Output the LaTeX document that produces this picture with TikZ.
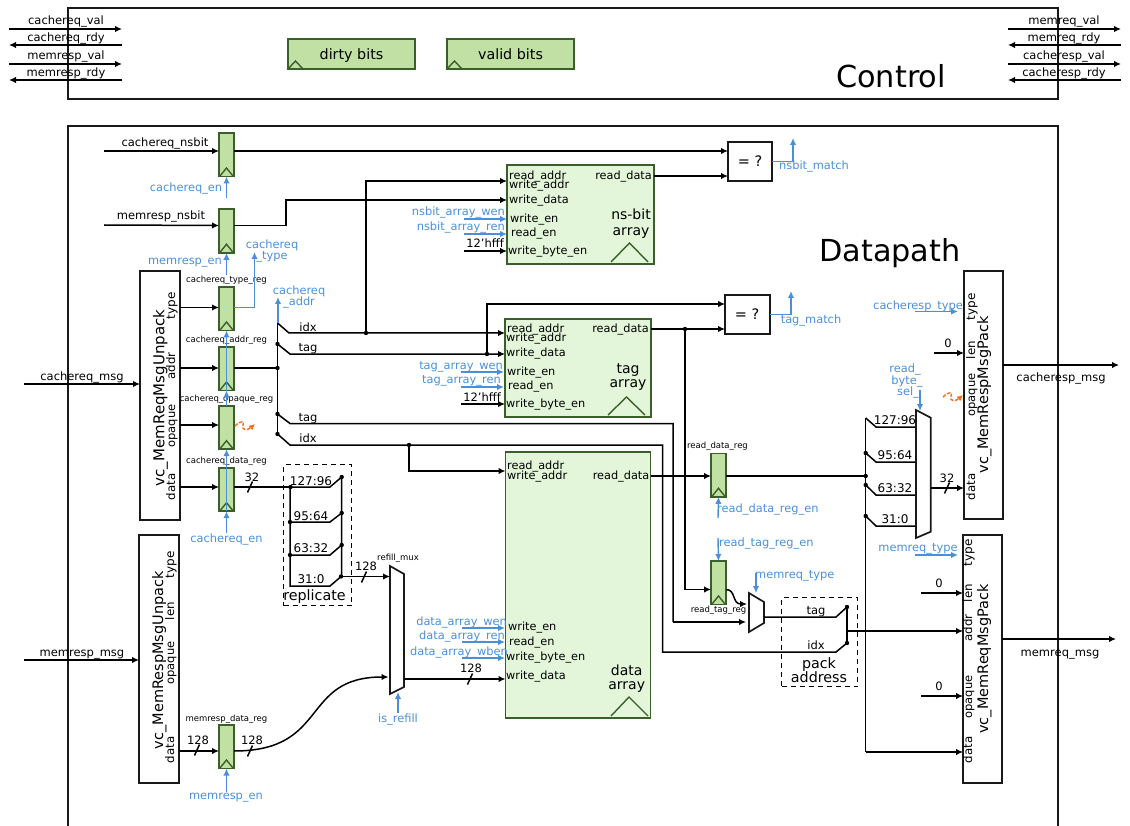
\documentclass[tikz,border=0pt]{standalone}
\usepackage{fontspec}
\setmainfont{DejaVu Sans}
\usetikzlibrary{arrows.meta,shapes.geometric}
\catcode`\_=12
\definecolor{regfill}{HTML}{C0E1A3}
\definecolor{regline}{HTML}{3B5F2A}
\definecolor{arrfill}{HTML}{E3F6D9}
\definecolor{sigblue}{HTML}{4A90D9}
\definecolor{wireorange}{HTML}{FF6A13}
\tikzset{
  x=1pt,y=-1pt,
  wire/.style={line width=1.5pt,draw=black},
  awire/.style={wire,-{Latex[length=7pt,width=6.5pt]}},
  bluewire/.style={line width=1.4pt,draw=sigblue},
  ablue/.style={bluewire,-{Latex[length=7pt,width=6.5pt]}},
  boxline/.style={line width=1.7pt,draw=black!90},
  regbox/.style={draw=regline,fill=regfill,line width=1.6pt,minimum width=15pt,minimum height=43.5pt,inner sep=0pt,outer sep=0pt,anchor=north west},
  arraybox/.style={draw=regline,fill=arrfill,line width=1.6pt,inner sep=0pt,outer sep=0pt,anchor=north west},
  unitbox/.style={boxline,fill=white,inner sep=0pt,outer sep=0pt,anchor=north west},
  tri/.style={draw=regline,line width=1.4pt},
  muxshape/.style={boxline,fill=white,line join=miter},
  dashbox/.style={line width=1.4pt,draw=black,dash pattern=on 5pt off 4pt},
  bluetxt/.style={text=sigblue},
  orangewire/.style={line width=1.4pt,draw=wireorange,dash pattern=on 3.5pt off 1.5pt,-{Latex[length=6pt,width=6pt]}},
}
\newcount\lblc
\newcommand\lbl[5][]{\global\advance\lblc by 1\relax
  \node[name=lbl\the\lblc,inner sep=0pt,anchor=base,text=black,font=\fontsize{#4}{#4}\selectfont,#1] at (#2,{#3+0.35*#4}) {#5};}
\newcommand\rlbl[5][]{\global\advance\lblc by 1\relax
  \node[name=lbl\the\lblc,inner sep=0pt,anchor=base,rotate=90,text=black,font=\fontsize{#4}{#4}\selectfont,#1] at ({#2+0.35*#4},#3) {#5};}
% register: name, left x, top y, port y
\newcommand\regx[4]{%
  \node[regbox] (#1) at (#2,#3) {};
  \coordinate (#1-in) at (#2,#4);
  \coordinate (#1-out) at ({#2+15},#4);
  \coordinate (#1-clk) at ({#2+7.5},{#3+43.5});
  \coordinate (#1-top) at ({#2+7.5},#3);
  \draw[tri] ({#2+1},{#3+43}) -- ({#2+7.5},{#3+35}) -- ({#2+14},{#3+43});}
\newcommand\jdot[2]{\fill[black] (#1,#2) circle (2.2pt);}
\newcommand\bitcut[2]{\draw[wire] ({#1-2.5},{#2+5.5}) -- ({#1+2.5},{#2-5.5});}
\begin{document}
\begin{tikzpicture}
\useasboundingbox (0,0) rectangle (1130,826);
% ---------- outer boxes
\node[unitbox,minimum width=990pt,minimum height=91pt] (control) at (68,8) {};
\draw[boxline] (68,826) -- (68,126) -- (1058,126) -- (1058,826);
\lbl{891}{77}{30.3}{Control}
\lbl{890}{251}{30.3}{Datapath}
% ---------- control ports
\coordinate (cl1) at (9,29); \coordinate (cl1b) at (122,29);
\coordinate (cl2) at (9,45); \coordinate (cl2b) at (122,45);
\coordinate (cl3) at (9,64); \coordinate (cl3b) at (122,64);
\coordinate (cl4) at (9,80); \coordinate (cl4b) at (122,80);
\coordinate (cr1) at (1008,29); \coordinate (cr1b) at (1121,29);
\coordinate (cr2) at (1008,45); \coordinate (cr2b) at (1121,45);
\coordinate (cr3) at (1008,64); \coordinate (cr3b) at (1121,64);
\coordinate (cr4) at (1008,80); \coordinate (cr4b) at (1121,80);
\draw[awire] (cl1) -- (cl1b); \draw[awire] (cl2b) -- (cl2); \draw[awire] (cl3) -- (cl3b); \draw[awire] (cl4b) -- (cl4);
\draw[awire] (cr1) -- (cr1b); \draw[awire] (cr2b) -- (cr2); \draw[awire] (cr3) -- (cr3b); \draw[awire] (cr4b) -- (cr4);
\lbl{66}{20}{11.5}{cachereq_val}
\lbl{66}{37}{11.5}{cachereq_rdy}
\lbl{66}{55}{11.5}{memresp_val}
\lbl{66}{72}{11.5}{memresp_rdy}
\lbl{1064}{20}{11.5}{memreq_val}
\lbl{1064}{37}{11.5}{memreq_rdy}
\lbl{1064}{55}{11.5}{cacheresp_val}
\lbl{1064}{72}{11.5}{cacheresp_rdy}
% state bits
\node[regbox,minimum width=127pt,minimum height=30pt] (dirty) at (288,39) {};
\node[regbox,minimum width=127pt,minimum height=30pt] (valid) at (447,39) {};
\draw[tri] (288,69) -- (295.5,61) -- (303,69);
\draw[tri] (447,69) -- (454.5,61) -- (462,69);
\lbl{351.5}{54}{14.3}{dirty bits}
\lbl{510.5}{54}{14.3}{valid bits}
% ---------- free-end coordinates
\coordinate (f-cnsb) at (104,151);
\coordinate (f-mnsb) at (104,225);
\coordinate (f-crqm) at (24,384);
\coordinate (f-mrsm) at (24,660);
\coordinate (f-crsm) at (1119,365);
\coordinate (f-mrqm) at (1116,639);
% ---------- port coordinates
\coordinate (cmp1-a) at (728,151); \coordinate (cmp1-b) at (728,176);
\coordinate (cmp2-a) at (725,304); \coordinate (cmp2-b) at (725,329);
\coordinate (ns-ra) at (507,181); \coordinate (ns-wd) at (507,200);
\coordinate (ns-rd) at (654,176);
\coordinate (tg-ra) at (505,333); \coordinate (tg-wd) at (505,354);
\coordinate (tg-rd) at (651,329);
\coordinate (da-ra) at (505.5,471); \coordinate (da-rd) at (651,476); \coordinate (da-wd) at (505.5,679);
\coordinate (j-idx) at (366,333); \coordinate (j-tag) at (487,354); \coordinate (j-dat) at (685,329);
\coordinate (j-idx2) at (409,445);
\coordinate (bus) at (277.5,368);
% registers
\regx{r1}{219}{133}{151}
\regx{r2}{219}{209.3}{225.5}
\regx{r3}{219}{287}{307.5}
\regx{r4}{219}{347}{368}
\regx{r5}{219}{405.7}{425}
\regx{r6}{219}{467.7}{487}
\regx{r7}{219}{725}{751}
\regx{r8}{711}{453.3}{476}
\regx{r9}{711}{561}{589.5}
\lbl{226.5}{280}{8.5}{cachereq_type_reg}
\lbl{226.5}{340}{8.5}{cachereq_addr_reg}
\lbl{226.5}{398.5}{8.5}{cachereq_opaque_reg}
\lbl{226.5}{461}{8.5}{cachereq_data_reg}
\lbl{226.5}{718.7}{8.5}{memresp_data_reg}
\lbl{717.5}{446}{8.5}{read_data_reg}
\lbl{718.5}{610}{8.5}{read_tag_reg}
% units
\node[unitbox,minimum width=40pt,minimum height=249pt] (reqU) at (140,271) {};
\node[unitbox,minimum width=40pt,minimum height=248pt] (respU) at (139,535) {};
\node[unitbox,minimum width=39pt,minimum height=248pt] (respP) at (964,271) {};
\node[unitbox,minimum width=39pt,minimum height=248pt] (reqP) at (963,535) {};
\rlbl{159}{398}{15}{vc_MemReqMsgUnpack}
\rlbl{171}{306}{12}{type}
\rlbl{171}{366}{11.8}{addr}
\rlbl{171}{426}{11.5}{opaque}
\rlbl{171}{487}{11.8}{data}
\rlbl{158}{660}{14.5}{vc_MemRespMsgUnpack}
\rlbl{170}{565}{12}{type}
\rlbl{170}{611}{11.8}{len}
\rlbl{170}{663}{11.5}{opaque}
\rlbl{170}{750}{11.8}{data}
\rlbl{983}{395}{14.5}{vc_MemRespMsgPack}
\rlbl{971}{307}{12}{type}
\rlbl{971}{350}{11.8}{len}
\rlbl{971}{395}{11.5}{opaque}
\rlbl{971}{487}{11.8}{data}
\rlbl{983}{659}{14.5}{vc_MemReqMsgPack}
\rlbl{968}{553}{12}{type}
\rlbl{968}{593}{11.8}{len}
\rlbl{968}{628}{11.8}{addr}
\rlbl{968}{697}{11.5}{opaque}
\rlbl{968}{750}{11.8}{data}
% arrays
\node[arraybox,minimum width=147pt,minimum height=99pt] (nsarr) at (507,165) {};
\node[arraybox,minimum width=146pt,minimum height=98pt] (tgarr) at (505,319) {};
\node[arraybox,minimum width=145pt,minimum height=266pt] (daarr) at (505.5,452) {};
\draw[tri] (611,262) -- (629.5,243) -- (648,262);
\draw[tri] (608,415) -- (626.5,397) -- (645,415);
\draw[tri] (611,716) -- (629,697) -- (648,716);
% array port text
\lbl[anchor=base west]{509}{176}{11.3}{read_addr}
\lbl[anchor=base west]{509}{184.5}{11.3}{write_addr}
\lbl[anchor=base west]{509}{200}{11.3}{write_data}
\lbl[anchor=base west]{510}{219}{11.3}{write_en}
\lbl[anchor=base west]{511}{233}{11.3}{read_en}
\lbl[anchor=base west]{508}{251}{11.3}{write_byte_en}
\lbl[anchor=base east]{652}{176}{11.3}{read_data}
\lbl{631}{215}{14}{ns-bit}
\lbl{631}{231}{14}{array}
\lbl[anchor=base west]{507}{329}{11.3}{read_addr}
\lbl[anchor=base west]{506}{337.5}{11.3}{write_addr}
\lbl[anchor=base west]{506}{353}{11.3}{write_data}
\lbl[anchor=base west]{507}{372}{11.3}{write_en}
\lbl[anchor=base west]{508}{386}{11.3}{read_en}
\lbl[anchor=base west]{506}{404}{11.3}{write_byte_en}
\lbl[anchor=base east]{649}{329}{11.3}{read_data}
\lbl{628}{369}{14}{tag}
\lbl{628}{383}{14}{array}
\lbl[anchor=base west]{507}{466}{11.3}{read_addr}
\lbl[anchor=base west]{507}{475.5}{11.3}{write_addr}
\lbl[anchor=base east]{649.5}{475.5}{11.3}{read_data}
\lbl[anchor=base west]{508}{627}{11.3}{write_en}
\lbl[anchor=base west]{509}{641.5}{11.3}{read_en}
\lbl[anchor=base west]{506}{657}{11.3}{write_byte_en}
\lbl[anchor=base west]{506}{676}{11.3}{write_data}
\lbl{626.7}{670.5}{14}{data}
\lbl{626.7}{685}{14}{array}
% comparators
\node[unitbox,minimum width=44pt,minimum height=39pt] (cmp1) at (728,142) {};
\node[unitbox,minimum width=45pt,minimum height=39pt] (cmp2) at (725,295) {};
\lbl{750}{161}{14.5}{= ?}
\lbl{747}{314}{14.5}{= ?}
% input wires
\draw[awire] (f-cnsb) -- (r1-in);
\draw[awire] (f-mnsb) -- (r2-in);
\draw[awire] (reqU.east |- r3-in) -- (r3-in);
\draw[awire] (reqU.east |- r4-in) -- (r4-in);
\draw[awire] (reqU.east |- r5-in) -- (r5-in);
\draw[awire] (reqU.east |- r6-in) -- (r6-in);
\draw[awire] (respU.east |- r7-in) -- (r7-in);
\draw[awire] (f-crqm) -- (reqU.west |- f-crqm);
\draw[awire] (f-mrsm) -- (respU.west |- f-mrsm);
\draw[awire] (respP.east |- f-crsm) -- (f-crsm);
\draw[awire] (reqP.east |- f-mrqm) -- (f-mrqm);
\lbl{165}{142}{11.5}{cachereq_nsbit}
\lbl{161}{215}{11.5}{memresp_nsbit}
\lbl{82}{376}{11.5}{cachereq_msg}
\lbl{82}{652}{11.5}{memresp_msg}
\lbl{1061}{377}{11.5}{cacheresp_msg}
\lbl{1060}{652}{11.5}{memreq_msg}
% nsbit path
\draw[awire] (r1-out) -- (cmp1-a);
\draw[awire] (r2-out) -- (286,225.5) -- (286,200) -- (ns-wd);
\draw[awire] (ns-rd) -- (cmp1-b);
% address bus
\draw[wire] (r4-out) -- (bus);
\draw[wire] (277.5,323) -- (277.5,434);
\draw[awire] (277.5,323) -- (289,333) -- (tg-ra);
\draw[awire] (277.5,344) -- (290,354) -- (tg-wd);
\draw[awire] (j-idx) -- (366,181) -- (ns-ra);
\draw[awire] (j-tag) -- (487,304) -- (cmp2-a);
\draw[wire] (277.5,414) -- (290,423.5) -- (673,423.5) -- (673,622) coordinate (m2b);
\draw[wire] (277.5,434) -- (290,445) -- (662.5,445) -- (662.5,652) -- (836,652) -- (847,643);
\draw[awire] (j-idx2) -- (409,471) -- (da-ra);
\jdot{366}{333}\jdot{487}{354}\jdot{409}{445}
\jdot{277.5}{344}\jdot{277.5}{368}\jdot{277.5}{414}\jdot{277.5}{434}
\lbl{308}{327}{11.5}{idx}
\lbl{308}{347}{11.5}{tag}
\lbl{308}{417}{11.5}{tag}
\lbl{308}{438}{11.5}{idx}
% tag read data
\draw[awire] (tg-rd) -- (cmp2-b);
\draw[awire] (j-dat) -- (685,589.5) -- (r9-in);
\jdot{685}{329}
% replicate
\coordinate (rep0) at (290,487); \coordinate (rep1) at (341.7,477);
\draw[wire] (r6-out) -- (rep0);
\bitcut{250}{487}
\lbl{252}{477}{11.5}{32}
\draw[wire] (rep0) -- (290,586) -- (330,586) -- (341.7,576);
\draw[wire] (rep0) -- (330,487) -- (rep1) -- (341.7,576);
\draw[wire] (290,522) -- (330,522) -- (341.7,513);
\draw[wire] (290,555) -- (330,555) -- (341.7,545);
\jdot{290.5}{487}\jdot{290}{522}\jdot{290}{555}
\jdot{341.7}{477}\jdot{341.7}{513}\jdot{341.7}{545}\jdot{341}{576.5}
\lbl{311}{481}{12}{127:96}
\lbl{311}{516}{12}{95:64}
\lbl{311}{548}{12}{63:32}
\lbl{311}{579}{12}{31:0}
\node[dashbox,minimum width=68pt,minimum height=141pt,inner sep=0pt,anchor=north west] (repbox) at (283,464) {};
\lbl{314.5}{595}{14.3}{replicate}
% refill mux
\coordinate (m1a) at (390,566); \coordinate (m1b) at (404,574); \coordinate (m1c) at (404,687); \coordinate (m1d) at (390,694);
\draw[muxshape] (m1a) -- (m1b) -- (m1c) -- (m1d) -- cycle;
\lbl{398}{558}{8.5}{refill_mux}
\draw[awire] (341,576.5) -- (m1a |- 0,576.5);
\bitcut{364}{577}
\lbl{366}{566}{11.5}{128}
\draw[awire] (r7-out) .. controls (330,751) and (300,677) .. (388.5,677);
\bitcut{250}{751}
\lbl{252}{740}{11.5}{128}
\bitcut{197}{750}
\lbl{198}{740}{11.5}{128}
\draw[awire] (m1c |- da-wd) -- (da-wd);
\bitcut{470}{679}
\lbl{471}{668}{11.5}{128}
% data read path and byte mux
\draw[awire] (da-rd) -- (r8-in);
\coordinate (bt) at (865.7,418);
\coordinate (m3a) at (916,410); \coordinate (m3b) at (930.7,417.7); \coordinate (m3c) at (930.7,531.7); \coordinate (m3d) at (916,538);
\draw[wire] (r8-out) -- (865.7,476);
\draw[wire] (bt) -- (865.7,752);
\draw[wire] (bt) -- (876,427) -- (916,427);
\draw[wire] (865.7,453) -- (876,462) -- (916,462);
\draw[wire] (865.7,485) -- (876,495) -- (916,495);
\draw[wire] (865.7,516) -- (876,526) -- (916,526);
\draw[awire] (865.7,752) -- (reqP.west |- 0,752);
\draw[muxshape] (m3a) -- (m3b) -- (m3c) -- (m3d) -- cycle;
\jdot{865.7}{453}\jdot{865.7}{476}\jdot{865.7}{485}\jdot{865.7}{516}
\lbl{895}{420}{12}{127:96}
\lbl{895}{455}{12}{95:64}
\lbl{895}{488}{12}{63:32}
\lbl{895}{519}{12}{31:0}
\draw[awire] (m3b |- 0,488) -- (respP.west |- 0,488);
\bitcut{947}{488}
\lbl{947}{478}{11.5}{32}
% tag/idx mux and pack address
\coordinate (m2a) at (749,593); \coordinate (m2tr) at (764,602); \coordinate (m2br) at (764,623); \coordinate (m2bl) at (749,632);
\draw[awire] (m2b) -- (746,622);
\draw[awire] (r9-out) .. controls (736,589.5) and (732,604) .. (747,604);
\draw[muxshape] (m2a) -- (m2tr) -- (m2br) -- (m2bl) -- cycle;
\draw[wire] (m2tr |- 0,617) -- (836,617) -- (847,607);
\draw[wire] (847,607) -- (847,643);
\draw[awire] (847,631) -- (reqP.west |- 0,631);
\jdot{847}{607}\jdot{847}{643}
\node[dashbox,minimum width=76pt,minimum height=89pt,inner sep=0pt,anchor=north west] (packbox) at (781,597) {};
\lbl{816}{610}{11.5}{tag}
\lbl{816}{645}{11.5}{idx}
\lbl{819}{663}{14.3}{pack}
\lbl{819}{677}{14.3}{address}
% constants
\draw[awire] (464,251) coordinate (c1) -- (507,251);
\lbl[anchor=base east]{504}{243}{11.5}{12'hfff}
\draw[awire] (461,404) coordinate (c2) -- (505,404);
\lbl[anchor=base east]{501}{397}{11.5}{12'hfff}
\draw[awire] (934,353) coordinate (c3) -- (respP.west |- 0,353);
\lbl{948}{343}{11.5}{0}
\draw[awire] (921,593) coordinate (c4) -- (reqP.west |- 0,593);
\lbl{939}{583}{11.5}{0}
\draw[awire] (921,696) coordinate (c5) -- (reqP.west |- 0,696);
\lbl{939}{686}{11.5}{0}
% blue control signals
\draw[ablue] (226.5,198) -- (r1-clk);
\lbl[bluetxt]{186}{187.5}{11.4}{cachereq_en}
\draw[ablue] (226.5,275) -- (r2-clk);
\lbl[bluetxt]{185}{261}{11.4}{memresp_en}
\draw[ablue] (226.5,533) -- (r6-clk);
\draw[ablue] (r6-top) -- (r5-clk);
\draw[ablue] (r5-top) -- (r4-clk);
\draw[ablue] (r4-top) -- (r3-clk);
\draw[bluewire] (r6-clk) -- (r6-top);
\draw[bluewire] (r4-clk) -- (r4-top);
\lbl[bluetxt]{226.5}{539}{11.4}{cachereq_en}
\draw[ablue] (r3-out) -- (254.5,307.5) -- (254.5,252);
\lbl[bluetxt]{272}{245}{11.4}{cachereq}
\lbl[bluetxt]{272}{256}{11.4}{_type}
\draw[ablue] (278,323) -- (278,297);
\lbl[bluetxt]{299}{291}{11.4}{cachereq}
\lbl[bluetxt]{299}{302}{11.4}{_addr}
\draw[ablue] (226.5,792) -- (r7-clk);
\lbl[bluetxt]{226}{796}{11.4}{memresp_en}
\draw[ablue] (398,713) -- (398,692);
\lbl[bluetxt]{398}{719}{11.4}{is_refill}
\draw[ablue] (cmp1.east) -- (793,161.5) -- (793,138);
\lbl[bluetxt]{814}{166}{11.4}{nsbit_match}
\draw[ablue] (cmp2.east) -- (791,314.5) -- (791,291);
\lbl[bluetxt]{811}{320}{11.4}{tag_match}
\draw[ablue] (464,219) -- (nsarr.west |- 0,219);
\draw[ablue] (464,234) -- (nsarr.west |- 0,234);
\lbl[bluetxt,anchor=base east]{505}{212}{11.4}{nsbit_array_wen}
\lbl[bluetxt,anchor=base east]{505}{227}{11.4}{nsbit_array_ren}
\draw[ablue] (461,372) -- (504,372);
\draw[ablue] (461,387) -- (504,387);
\lbl[bluetxt,anchor=base east]{503}{366}{11.4}{tag_array_wen}
\lbl[bluetxt,anchor=base east]{501}{380}{11.4}{tag_array_ren}
\draw[ablue] (462,628) -- (505,628);
\draw[ablue] (462,642) -- (505,642);
\draw[ablue] (462,658) -- (505,658);
\lbl[bluetxt,anchor=base east]{507}{622}{11.4}{data_array_wen}
\lbl[bluetxt,anchor=base east]{505}{636}{11.4}{data_array_ren}
\lbl[bluetxt,anchor=base east]{508}{652}{11.4}{data_array_wben}
\draw[ablue] (718,518) -- (r8-clk);
\lbl[bluetxt,anchor=base west]{717}{509}{11.4}{read_data_reg_en}
\draw[ablue] (718,538) -- (r9-top);
\lbl[bluetxt,anchor=base west]{719}{543}{11.4}{read_tag_reg_en}
\draw[ablue] (756,573) -- (756,593);
\lbl[bluetxt,anchor=base west]{755}{575}{11.4}{memreq_type}
\draw[ablue] (915,311.5) -- (958,311.5);
\lbl[bluetxt]{918}{305.5}{11.4}{cacheresp_type}
\draw[ablue] (915,555) -- (958,555);
\lbl[bluetxt]{918}{548}{11.4}{memreq_type}
\draw[ablue] (920,390) -- (920,411);
\lbl[bluetxt]{905}{369}{11.4}{read_}
\lbl[bluetxt]{907}{381}{11.4}{byte_}
\lbl[bluetxt]{908}{392}{11.4}{sel_}
% orange don't-care wires
\draw[orangewire] (235,426) .. controls (241,420) and (245,421) .. (243,425) .. controls (241,430) and (247,431) .. (255,424);
\draw[orangewire] (943,397) .. controls (949,391) and (953,392) .. (951,396) .. controls (949,401) and (955,402) .. (963,395);
\end{tikzpicture}
\end{document}
